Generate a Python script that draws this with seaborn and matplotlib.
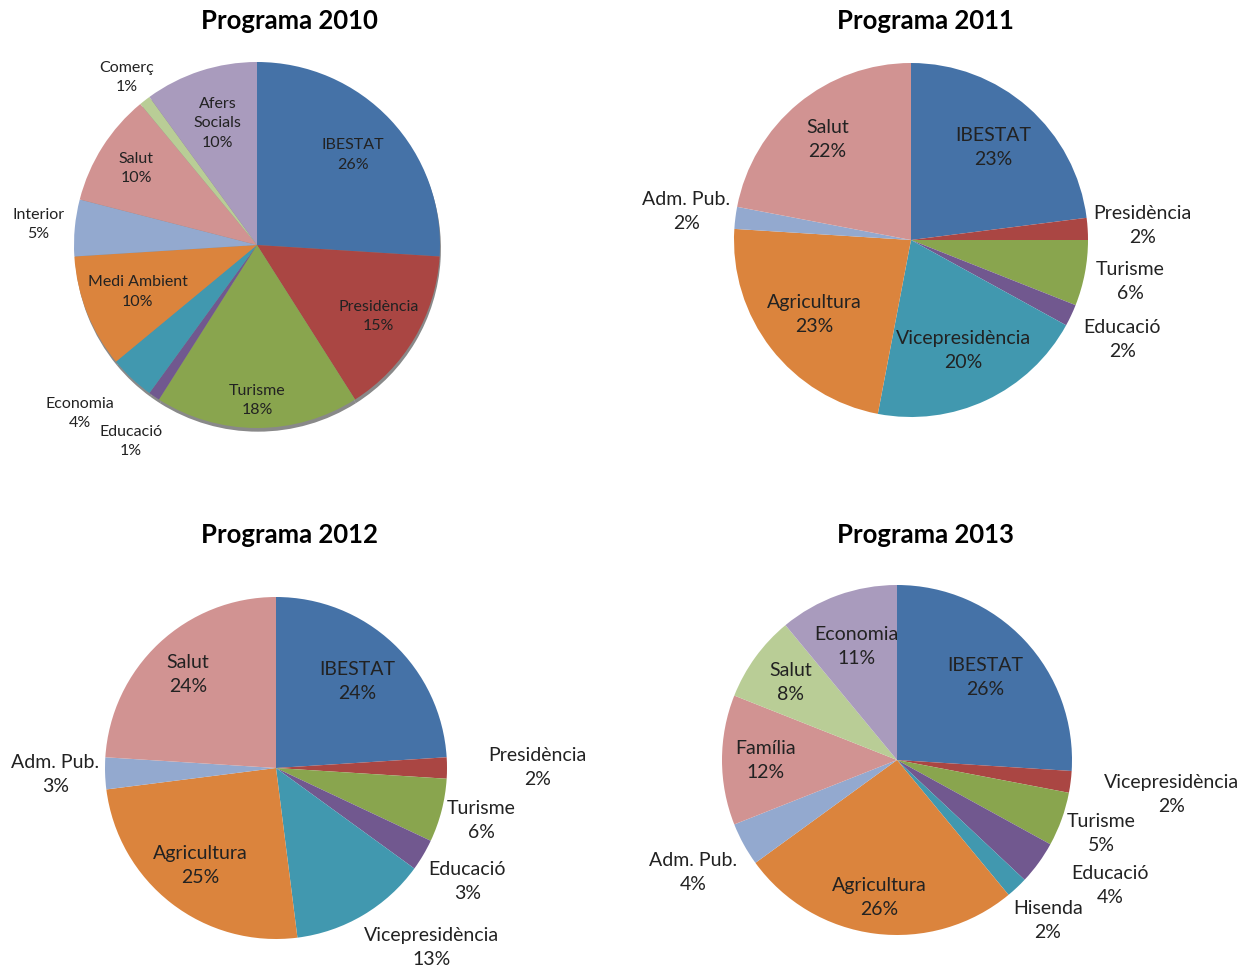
import matplotlib
matplotlib.use("Agg")
import matplotlib.pyplot as plt
import numpy as np
import seaborn as sns

sns.set_theme(style="white")
plt.rcParams['font.family'] = ['Lato', 'DejaVu Sans']

# colors (excel 2007 palette)
BLUE = '#4572A7'
RED = '#AA4643'
GREEN = '#89A54E'
PURPLE = '#71588F'
TEAL = '#4198AF'
ORANGE = '#DB843D'
LBLUE = '#93A9CF'
PINK = '#D19392'
LGREEN = '#B9CD96'
LAV = '#A99BBD'

# data
labels_2010 = ['IBESTAT', 'Presidència', 'Turisme', 'Educació', 'Economia',
               'Medi Ambient', 'Interior', 'Salut', 'Comerç', 'Afers\nSocials']
values_2010 = [26, 15, 18, 1, 4, 10, 5, 10, 1, 10]
colors_2010 = [BLUE, RED, GREEN, PURPLE, TEAL, ORANGE, LBLUE, PINK, LGREEN, LAV]

labels_2011 = ['IBESTAT', 'Presidència', 'Turisme', 'Educació', 'Vicepresidència',
               'Agricultura', 'Adm. Pub.', 'Salut']
values_2011 = [23, 2, 6, 2, 20, 23, 2, 22]
colors_2011 = [BLUE, RED, GREEN, PURPLE, TEAL, ORANGE, LBLUE, PINK]

labels_2012 = ['IBESTAT', 'Presidència', 'Turisme', 'Educació', 'Vicepresidència',
               'Agricultura', 'Adm. Pub.', 'Salut']
values_2012 = [24, 2, 6, 3, 13, 25, 3, 24]
colors_2012 = [BLUE, RED, GREEN, PURPLE, TEAL, ORANGE, LBLUE, PINK]

labels_2013 = ['IBESTAT', 'Vicepresidència', 'Turisme', 'Educació', 'Hisenda',
               'Agricultura', 'Adm. Pub.', 'Família', 'Salut', 'Economia']
values_2013 = [26, 2, 5, 4, 2, 26, 4, 12, 8, 11]
colors_2013 = [BLUE, RED, GREEN, PURPLE, TEAL, ORANGE, LBLUE, PINK, LGREEN, LAV]

# label layout: radial distance (in radii) and nudge (dx, dy) per label
place_2010 = [(0.72, 0, 0), (0.77, 0, 0), (0.85, 0, 0), (1.28, 0.03, -0.015),
              (1.33, -0.055, 0.05), (0.70, 0, 0), (1.20, 0, 0), (0.78, 0, 0),
              (1.16, 0, 0), (0.70, 0, 0)]
place_2011 = [(0.70, 0, 0), (1.31, 0, 0), (1.26, 0, 0), (1.32, 0, 0), (0.69, 0, 0),
              (0.69, 0, 0), (1.28, 0, 0), (0.74, 0, 0)]
place_2012 = [(0.69, 0, 0), (1.53, 0, 0), (1.24, 0, 0), (1.30, 0, 0), (1.0, 0.40, -0.19),
              (0.72, 0, 0), (1.29, 0, 0), (0.75, 0, 0)]
place_2013 = [(0.69, 0, 0), (1.58, 0, 0), (1.24, 0, 0), (1.22, 0.23, 0.0), (1.26, 0, 0),
              (0.79, 0, 0), (1.33, 0, 0), (0.75, 0, 0), (0.75, 0, 0), (0.69, 0, 0)]

W, H = 1259, 972
fig = plt.figure(figsize=(W / 100, H / 100), dpi=100)


def draw_pie(title, labels, values, colors, place, cx, cy, r, fs, tx, ty, shadow=False):
    half = 1.8 * r
    ax = fig.add_axes([(cx - half) / W, 1 - (cy + half) / H, 2 * half / W, 2 * half / H])
    if shadow:
        # dark rim under the 2010 pie
        ax.pie(values, colors=['#3a3a3a'] * len(values), startangle=90,
               counterclock=False, radius=1, center=(0.005, -0.02),
               wedgeprops=dict(linewidth=0, alpha=0.6))
    wedges, _ = ax.pie(values, colors=colors, startangle=90, counterclock=False,
                       radius=1, wedgeprops=dict(linewidth=0))
    ax.set_xlim(-1.8, 1.8)
    ax.set_ylim(-1.8, 1.8)
    ax.set_axis_off()
    for w, lab, v, (d, dx, dy) in zip(wedges, labels, values, place):
        ang = np.deg2rad((w.theta1 + w.theta2) / 2)
        x = d * np.cos(ang) + dx
        y = d * np.sin(ang) + dy
        ax.text(x, y, f"{lab}\n{v}%", ha='center', va='center', fontsize=fs,
                color='#222222', linespacing=1.5)
    fig.text(tx / W, 1 - ty / H, title, ha='center', va='center',
             fontsize=18.5, fontweight='bold', color='black')


draw_pie('Programa 2010', labels_2010, values_2010, colors_2010, place_2010,
         257, 245, 183, 11.5, 289, 21, shadow=True)
draw_pie('Programa 2011', labels_2011, values_2011, colors_2011, place_2011,
         911, 240, 177, 14, 925, 21)
draw_pie('Programa 2012', labels_2012, values_2012, colors_2012, place_2012,
         276, 768, 171, 14, 289, 535)
draw_pie('Programa 2013', labels_2013, values_2013, colors_2013, place_2013,
         897, 760, 175, 14, 925, 535)

fig.savefig('out.png', dpi=100, facecolor='white')
